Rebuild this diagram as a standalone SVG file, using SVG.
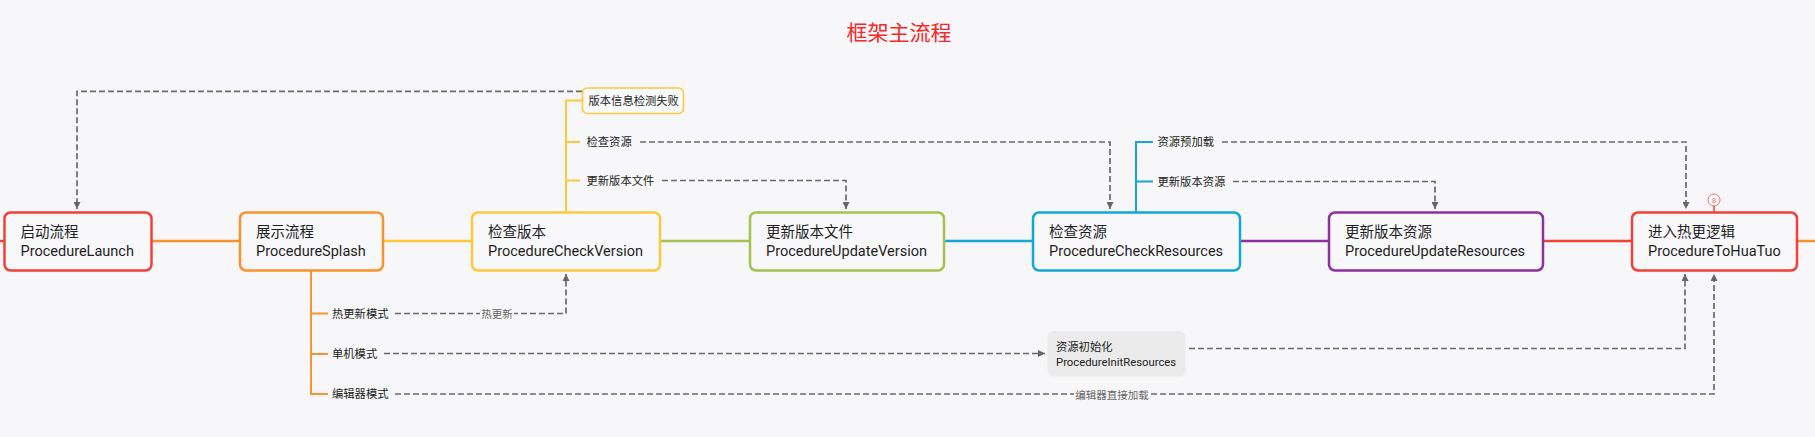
<svg xmlns="http://www.w3.org/2000/svg" width="1815" height="437" viewBox="0 0 1815 437">
<defs>
<style>
.bg{fill:#f7f7f9}
.box{fill:#f8f8fa;stroke-width:2.5}
.t{font-family:Roboto,"Noto Sans CJK SC",sans-serif;font-size:14.5px;fill:#1e1e1e}
.s{font-family:Roboto,"Noto Sans CJK SC",sans-serif;font-size:11.3px;fill:#222}
.lbl{font-family:Roboto,"Noto Sans CJK SC",sans-serif;font-size:10.5px;fill:#666;text-anchor:middle}
.main{fill:none;stroke-width:2.5}
.br{fill:none;stroke-width:2}
.dash{fill:none;stroke:#6a6a6a;stroke-width:1.7;stroke-dasharray:6 3}
.arr{marker-end:url(#ah)}
</style>
<marker id="ah" viewBox="0 0 8 8" refX="8" refY="4" markerWidth="7" markerHeight="7" markerUnits="userSpaceOnUse" orient="auto">
<path d="M0,0 L8,4 L0,8 z" fill="#666"/>
</marker>
</defs>
<rect class="bg" x="0" y="0" width="1815" height="437"/>
<text x="899" y="40" font-family="Roboto,'Noto Sans CJK SC',sans-serif" font-size="21" fill="#f5282a" text-anchor="middle">框架主流程</text>

<g id="connectors">
<path class="main" stroke="#ef4138" d="M0,241 H5"/>
<path class="main" stroke="#f7922f" d="M151.5,241 H240"/>
<path class="main" stroke="#fdc83b" d="M383,241 H472"/>
<path class="main" stroke="#a5c24d" d="M660,241 H750"/>
<path class="main" stroke="#13a8d4" d="M944,241 H1033"/>
<path class="main" stroke="#8d319e" d="M1240,241 H1329"/>
<path class="main" stroke="#ef4138" d="M1543,241 H1632"/>
<path class="main" stroke="#f7922f" d="M1797,241 H1815"/>

<path class="br" stroke="#fdc83b" d="M566,212 V100.5 H582 M566,142 H580 M566,180.5 H580"/>
<path class="br" stroke="#13a8d4" d="M1136,212 V142 H1153 M1136,181.5 H1153"/>
<path class="br" stroke="#f7922f" d="M311,270 V394 H328 M311,313.5 H328 M311,354 H328"/>
<path stroke="#ef4138" stroke-width="1.5" d="M1714,206 V212"/>

<path class="dash arr" d="M582,91.3 H77 V209"/>
<path class="dash arr" d="M640,142 H1110 V209"/>
<path class="dash arr" d="M662,180.5 H846 V209"/>
<path class="dash arr" d="M1222,142 H1686 V209"/>
<path class="dash arr" d="M1233,181.5 H1435 V209"/>
<path class="dash arr" d="M395,313.5 H566 V274"/>
<path class="dash arr" d="M384,353.5 H1045"/>
<path class="dash arr" d="M1189,348.5 H1685 V274"/>
<path class="dash arr" d="M395,394 H1714 V274"/>
<rect class="bg" x="480" y="306" width="34" height="14"/>
<text class="lbl" x="497" y="317.5">热更新</text>
<rect class="bg" x="1074" y="387" width="76" height="14"/>
<text class="lbl" x="1112" y="398.5">编辑器直接加载</text>
</g>

<g id="n1"><rect class="box" stroke="#ef4138" x="4.5" y="212.5" width="147" height="58" rx="6"/><text class="t" x="20.5" y="236.5">启动流程</text><text class="t" x="20.5" y="255.5">ProcedureLaunch</text></g>
<g id="n2"><rect class="box" stroke="#f7922f" x="240" y="212.5" width="143" height="58" rx="6"/><text class="t" x="256" y="236.5">展示流程</text><text class="t" x="256" y="255.5">ProcedureSplash</text></g>
<g id="n3"><rect class="box" stroke="#fdc83b" x="472" y="212.5" width="188" height="58" rx="6"/><text class="t" x="488" y="236.5">检查版本</text><text class="t" x="488" y="255.5">ProcedureCheckVersion</text></g>
<g id="n4"><rect class="box" stroke="#a5c24d" x="750" y="212.5" width="194" height="58" rx="6"/><text class="t" x="766" y="236.5">更新版本文件</text><text class="t" x="766" y="255.5">ProcedureUpdateVersion</text></g>
<g id="n5"><rect class="box" stroke="#13a8d4" x="1033" y="212.5" width="207" height="58" rx="6"/><text class="t" x="1049" y="236.5">检查资源</text><text class="t" x="1049" y="255.5">ProcedureCheckResources</text></g>
<g id="n6"><rect class="box" stroke="#8d319e" x="1329" y="212.5" width="214" height="58" rx="6"/><text class="t" x="1345" y="236.5">更新版本资源</text><text class="t" x="1345" y="255.5">ProcedureUpdateResources</text></g>
<g id="n7"><rect class="box" stroke="#ef4138" x="1632" y="212.5" width="165" height="58" rx="6"/><text class="t" x="1648" y="236.5">进入热更逻辑</text><text class="t" x="1648" y="255.5">ProcedureToHuaTuo</text>
<circle cx="1714" cy="200" r="6" fill="#fff" stroke="#f46a6a" stroke-width="1"/><text x="1714" y="203" font-family="Roboto,sans-serif" font-size="8" fill="#f46a6a" text-anchor="middle">8</text></g>

<g id="n8"><rect x="582.5" y="88" width="101" height="25.5" rx="5" fill="#fafafb" stroke="#fdc83b" stroke-width="1.6"/><text class="s" x="588.5" y="104.5">版本信息检测失败</text></g>
<g id="l1"><text class="s" x="586.5" y="146">检查资源</text></g>
<g id="l2"><text class="s" x="586.5" y="184.5">更新版本文件</text></g>
<g id="l3"><text class="s" x="1157.5" y="146">资源预加载</text></g>
<g id="l4"><text class="s" x="1157.5" y="185.5">更新版本资源</text></g>
<g id="l5"><text class="s" x="332" y="317.5">热更新模式</text></g>
<g id="l6"><text class="s" x="332" y="358">单机模式</text></g>
<g id="l7"><text class="s" x="332" y="398">编辑器模式</text></g>
<g id="n9"><rect x="1047.5" y="331" width="138" height="45.5" rx="6" fill="#ebebeb"/><text class="s" x="1056" y="350.5">资源初始化</text><text class="s" x="1056" y="365.5">ProcedureInitResources</text></g>
</svg>
